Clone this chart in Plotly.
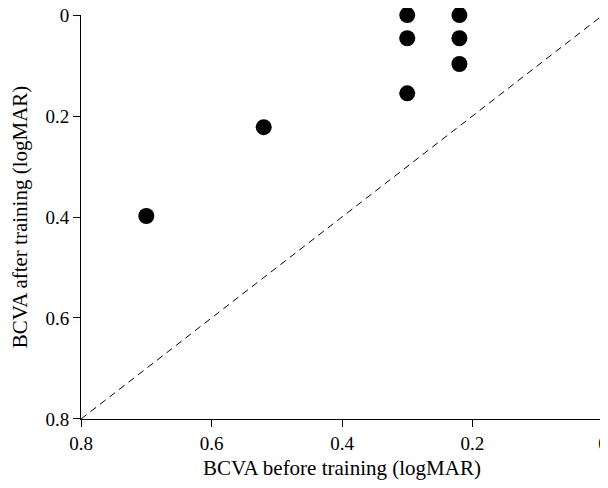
import plotly.graph_objects as go

# Data (logMAR)
bcva_before = [0.70, 0.52, 0.30, 0.30, 0.30, 0.22, 0.22, 0.22]
bcva_after = [0.398, 0.222, 0.0, 0.046, 0.155, 0.0, 0.046, 0.097]
identity_line = [0.8, 0.0]
tick_vals = [0, 0.2, 0.4, 0.6, 0.8]
tick_text = ["0", "0.2", "0.4", "0.6", "0.8"]

FONT = "Liberation Serif"

fig = go.Figure()
fig.add_trace(go.Scatter(
    x=identity_line, y=identity_line, mode="lines",
    line=dict(color="black", width=1, dash="7px,5px"),
    hoverinfo="skip", showlegend=False, cliponaxis=False,
))
fig.add_trace(go.Scatter(
    x=bcva_before, y=bcva_after, mode="markers",
    marker=dict(color="black", size=16, line=dict(width=0)),
    showlegend=False, cliponaxis=False,
))

axis_common = dict(
    tickvals=tick_vals, ticktext=tick_text,
    showline=True, linecolor="black", linewidth=1,
    ticks="outside", ticklen=7, tickcolor="black", tickwidth=1,
    showgrid=False, zeroline=False,
    automargin=False,
    ticklabeloverflow="allow",
    tickfont=dict(family=FONT, size=19, color="black"),
)

# figure sized to fit the 608x488 window inside the page's default 8px body margin
fig.update_layout(
    template="none",
    width=600, height=472,
    margin=dict(l=73, r=5, t=7, b=61),
    plot_bgcolor="white", paper_bgcolor="white",
    font=dict(family=FONT, color="black"),
    xaxis=dict(range=[0.8001, -0.0001], title=dict(text="BCVA before training (logMAR)",
               font=dict(family=FONT, size=21, color="black"), standoff=10), **axis_common),
    yaxis=dict(range=[0.8001, -0.0001], title=dict(text="BCVA after training (logMAR)",
               font=dict(family=FONT, size=21, color="black"), standoff=12), **axis_common),
)

fig.write_html("out.html")
